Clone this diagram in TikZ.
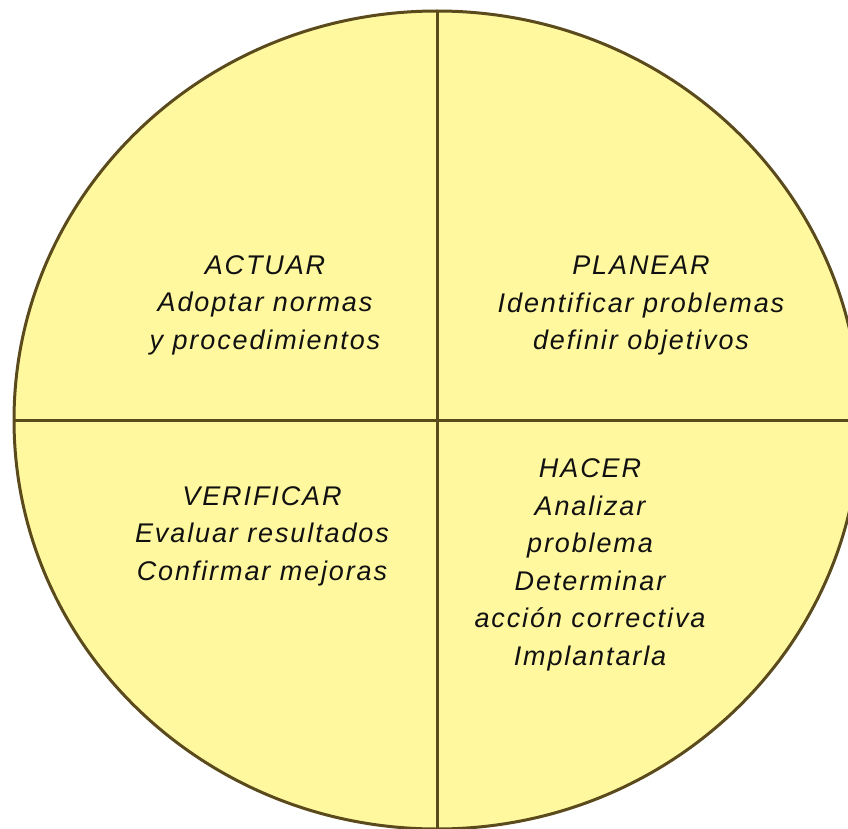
\documentclass[tikz,border=0pt]{standalone}
\usepackage{fontspec}
\setmainfont{Liberation Sans}
\newfontfamily\spaced[LetterSpace=7]{Liberation Sans}
\usetikzlibrary{shapes.geometric}
\definecolor{ink}{HTML}{111111}
\definecolor{rim}{HTML}{5A4A1C}
\definecolor{paper}{HTML}{FFF89F}
\tikzset{
  every picture/.style={line width=3pt, draw=rim, text=ink},
  ring/.style={ellipse, draw=rim, fill=paper, minimum width=846pt, minimum height=818pt, inner sep=0pt, outer sep=0pt},
  split/.style={draw=rim, line width=3pt},
  phase/.style={align=center, font=\spaced\fontsize{27}{37.5}\selectfont\itshape},
}

\begin{document}
\begin{tikzpicture}[x=1pt, y=-1pt]
\useasboundingbox (0,0) rectangle (848,829);
\clip (0,0) rectangle (848,829);
\node[ring] (ciclo) at (437,420) {};
\draw[split] (ciclo.north) -- (ciclo.south);
\draw[split] (ciclo.west) -- (ciclo.east);
\node[phase] (actuar) at (265,305) {ACTUAR\\Adoptar normas\\y procedimientos};
\node[phase] (planear) at (641,306) {PLANEAR\\Identificar problemas\\definir objetivos};
\node[phase] (verificar) at (262,536) {VERIFICAR\\Evaluar resultados\\Confirmar mejoras};
\node[phase] (hacer) at (590,565) {HACER\\Analizar\\problema\\Determinar\\acción correctiva\\Implantarla};
\end{tikzpicture}
\end{document}
